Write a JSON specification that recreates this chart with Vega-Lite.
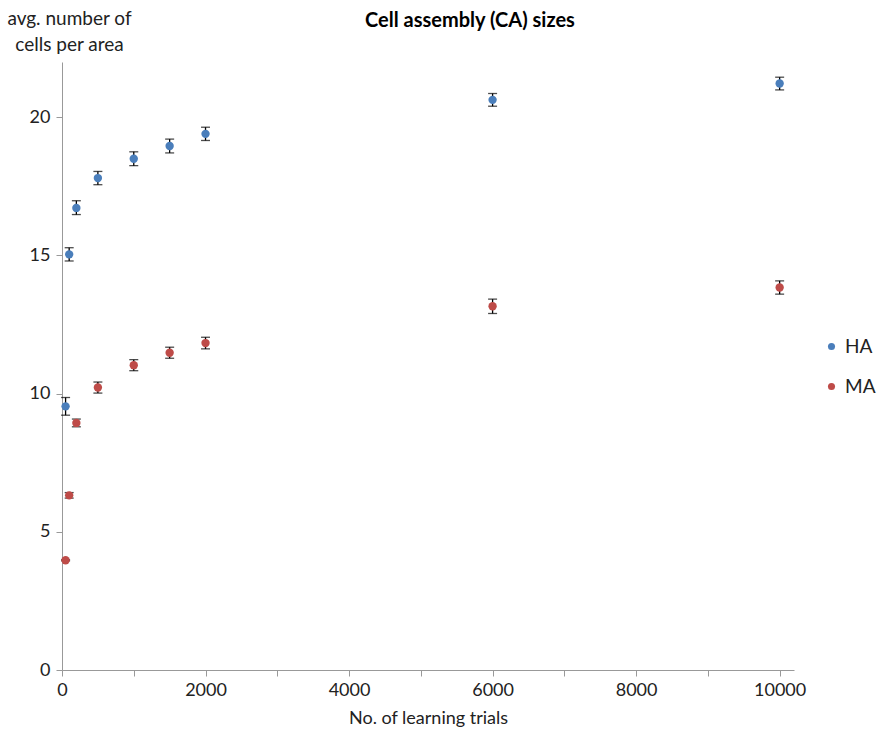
{
  "$schema": "https://vega.github.io/schema/vega-lite/v6.json",
  "width": 732,
  "height": 608,
  "autosize": "none",
  "padding": {"left": 62, "top": 62, "right": 84, "bottom": 68},
  "background": "white",
  "config": {
    "font": "Lato",
    "view": {"stroke": null}
  },
  "title": {
    "text": "Cell assembly (CA) sizes",
    "fontSize": 20,
    "fontWeight": "bold",
    "font": "Lato",
    "anchor": "middle",
    "offset": -22,
    "dx": 42,
    "color": "black"
  },
  "data": {
    "values": [
      {"series": "HA", "trials": 50, "mean": 9.54, "lo": 9.22, "hi": 9.86},
      {"series": "HA", "trials": 100, "mean": 15.04, "lo": 14.8, "hi": 15.28},
      {"series": "HA", "trials": 200, "mean": 16.72, "lo": 16.48, "hi": 16.98},
      {"series": "HA", "trials": 500, "mean": 17.8, "lo": 17.56, "hi": 18.04},
      {"series": "HA", "trials": 1000, "mean": 18.5, "lo": 18.25, "hi": 18.75},
      {"series": "HA", "trials": 1500, "mean": 18.96, "lo": 18.71, "hi": 19.21},
      {"series": "HA", "trials": 2000, "mean": 19.4, "lo": 19.16, "hi": 19.64},
      {"series": "HA", "trials": 6000, "mean": 20.63, "lo": 20.4, "hi": 20.86},
      {"series": "HA", "trials": 10000, "mean": 21.22, "lo": 20.99, "hi": 21.45},
      {"series": "MA", "trials": 50, "mean": 3.97, "lo": 3.95, "hi": 3.99},
      {"series": "MA", "trials": 100, "mean": 6.32, "lo": 6.22, "hi": 6.42},
      {"series": "MA", "trials": 200, "mean": 8.94, "lo": 8.8, "hi": 9.08},
      {"series": "MA", "trials": 500, "mean": 10.22, "lo": 10.02, "hi": 10.42},
      {"series": "MA", "trials": 1000, "mean": 11.03, "lo": 10.83, "hi": 11.23},
      {"series": "MA", "trials": 1500, "mean": 11.48, "lo": 11.28, "hi": 11.68},
      {"series": "MA", "trials": 2000, "mean": 11.83, "lo": 11.62, "hi": 12.04},
      {"series": "MA", "trials": 6000, "mean": 13.16, "lo": 12.9, "hi": 13.42},
      {"series": "MA", "trials": 10000, "mean": 13.84, "lo": 13.6, "hi": 14.08}
    ]
  },
  "encoding": {
    "x": {
      "field": "trials",
      "type": "quantitative",
      "scale": {"domain": [0, 10200], "nice": false, "zero": true},
      "axis": {
        "title": "No. of learning trials",
        "titleFontSize": 18,
        "titleFontWeight": "normal",
        "titleColor": "#222",
        "titlePadding": 10,
        "values": [0, 1000, 2000, 3000, 4000, 5000, 6000, 7000, 8000, 9000, 10000],
        "labelExpr": "datum.value % 2000 === 0 ? datum.value : ''",
        "labelFontSize": 18,
        "labelColor": "#222",
        "labelPadding": 5,
        "grid": false,
        "domainColor": "#999",
        "tickColor": "#999",
        "tickSize": 6,
        "labelFlush": false
      }
    }
  },
  "layer": [
    {
      "mark": {"type": "errorbar", "ticks": {"size": 9, "color": "black"}, "rule": {"color": "black"}, "thickness": 1.3},
      "encoding": {
        "y": {
          "field": "lo",
          "type": "quantitative",
          "scale": {"domain": [0, 22], "nice": false},
          "title": ["avg. number of", "cells per area"],
          "axis": {
            "title": ["avg. number of", "cells per area"],
            "titleAngle": 0,
            "titleAlign": "center",
            "titleBaseline": "top",
            "titleX": 7,
            "titleY": -53,
            "titleFontSize": 19,
            "titleFontWeight": "normal",
            "titleColor": "#222",
            "titleLineHeight": 26,
            "values": [0, 5, 10, 15, 20],
            "labelFontSize": 18,
            "labelColor": "#222",
            "labelPadding": 6,
            "grid": false,
            "domainColor": "#999",
            "tickColor": "#999",
            "tickSize": 6
          }
        },
        "y2": {"field": "hi"},
        "detail": {"field": "series"}
      }
    },
    {
      "mark": {"type": "point", "filled": true, "opacity": 1, "size": 70, "shape": "circle"},
      "encoding": {
        "y": {
          "field": "mean",
          "type": "quantitative",
          "scale": {"domain": [0, 22], "nice": false},
          "title": ["avg. number of", "cells per area"],
          "axis": {
            "title": ["avg. number of", "cells per area"],
            "titleAngle": 0,
            "titleAlign": "center",
            "titleBaseline": "top",
            "titleX": 7,
            "titleY": -53,
            "titleFontSize": 19,
            "titleFontWeight": "normal",
            "titleColor": "#222",
            "titleLineHeight": 26,
            "values": [0, 5, 10, 15, 20],
            "labelFontSize": 18,
            "labelColor": "#222",
            "labelPadding": 6,
            "grid": false,
            "domainColor": "#999",
            "tickColor": "#999",
            "tickSize": 6
          }
        },
        "color": {
          "field": "series",
          "type": "nominal",
          "scale": {"domain": ["HA", "MA"], "range": ["#4A7EBB", "#BE4B48"]},
          "legend": {
            "title": null,
            "orient": "none",
            "legendX": 760,
            "legendY": 275,
            "labelFontSize": 19,
            "labelColor": "#222",
            "symbolSize": 50,
            "symbolType": "circle",
            "rowPadding": 20,
            "labelOffset": 4,
            "labelLimit": 60
          }
        }
      }
    }
  ]
}
